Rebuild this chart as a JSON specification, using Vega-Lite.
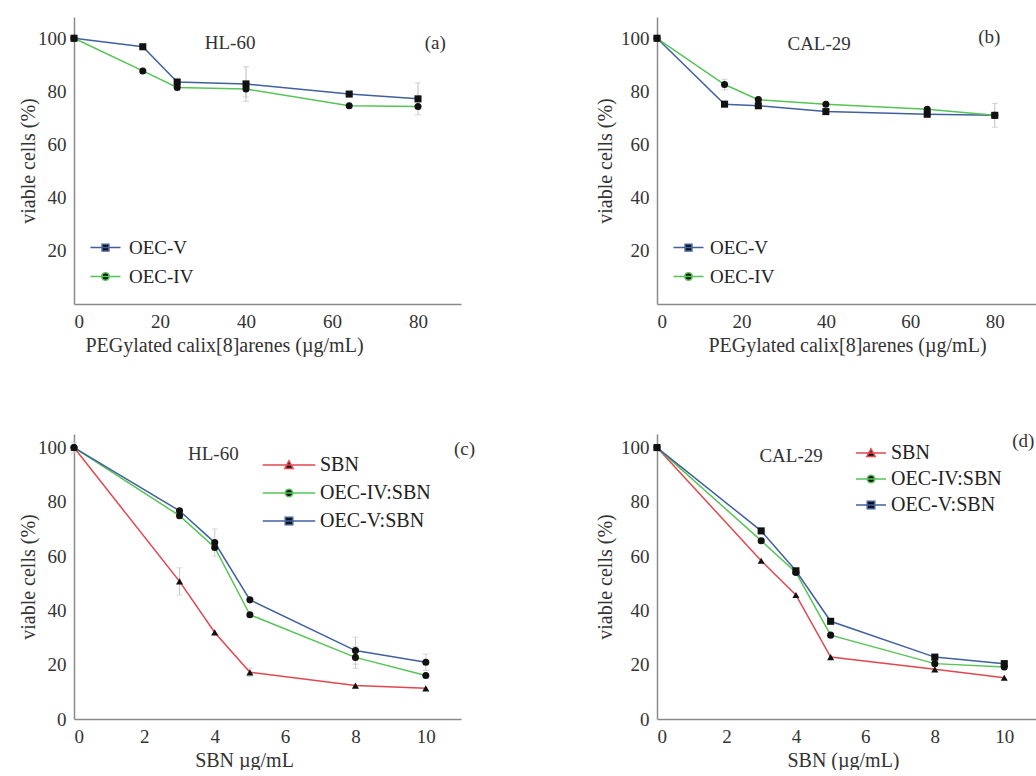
{
  "$schema": "https://vega.github.io/schema/vega-lite/v6.json",
  "padding": {"left": 18, "top": 17, "right": 0, "bottom": 0},
  "background": "white",
  "config": {
    "font": "Liberation Serif",
    "view": {"stroke": null},
    "axis": {
      "domainColor": "#8a8a8a", "domainWidth": 1.5, "ticks": false, "grid": false,
      "labelFont": "Liberation Serif", "labelFontSize": 19, "labelColor": "#333",
      "titleFont": "Liberation Serif", "titleFontSize": 20, "titleFontWeight": "normal", "titleColor": "#333",
      "labelPadding": 8
    },
    "legend": {"labelFont": "Liberation Serif", "labelColor": "#222", "title": null, "padding": 0},
    "text": {"font": "Liberation Serif", "fontSize": 19, "color": "#333"}
  },
  "resolve": {"scale": {"color": "independent", "x": "independent", "y": "independent"}, "legend": {"color": "independent"}},
  "datasets": {
    "a": [
      {"series": "OEC-V", "x": 0, "y": 100},
      {"series": "OEC-V", "x": 16, "y": 96.8},
      {"series": "OEC-V", "x": 24, "y": 83.5, "err": 1.5},
      {"series": "OEC-V", "x": 40, "y": 82.8, "err": 6.5},
      {"series": "OEC-V", "x": 64, "y": 79},
      {"series": "OEC-V", "x": 80, "y": 77.2, "err": 6},
      {"series": "OEC-IV", "x": 0, "y": 100},
      {"series": "OEC-IV", "x": 16, "y": 87.7},
      {"series": "OEC-IV", "x": 24, "y": 81.5},
      {"series": "OEC-IV", "x": 40, "y": 80.9, "err": 3},
      {"series": "OEC-IV", "x": 64, "y": 74.6},
      {"series": "OEC-IV", "x": 80, "y": 74.3}
    ],
    "b": [
      {"series": "OEC-V", "x": 0, "y": 100},
      {"series": "OEC-V", "x": 16, "y": 75.2},
      {"series": "OEC-V", "x": 24, "y": 74.6},
      {"series": "OEC-V", "x": 40, "y": 72.4},
      {"series": "OEC-V", "x": 64, "y": 71.4},
      {"series": "OEC-V", "x": 80, "y": 71, "err": 4.5},
      {"series": "OEC-IV", "x": 0, "y": 100},
      {"series": "OEC-IV", "x": 16, "y": 82.6, "err": 2},
      {"series": "OEC-IV", "x": 24, "y": 76.9},
      {"series": "OEC-IV", "x": 40, "y": 75.2},
      {"series": "OEC-IV", "x": 64, "y": 73.3},
      {"series": "OEC-IV", "x": 80, "y": 71}
    ],
    "c": [
      {"series": "SBN", "x": 0, "y": 100},
      {"series": "SBN", "x": 3, "y": 50.7, "err": 5},
      {"series": "SBN", "x": 4, "y": 31.9},
      {"series": "SBN", "x": 5, "y": 17.2, "err": 1.5},
      {"series": "SBN", "x": 8, "y": 12.3},
      {"series": "SBN", "x": 10, "y": 11.3},
      {"series": "OEC-IV:SBN", "x": 0, "y": 100},
      {"series": "OEC-IV:SBN", "x": 3, "y": 74.9},
      {"series": "OEC-IV:SBN", "x": 4, "y": 63.2},
      {"series": "OEC-IV:SBN", "x": 5, "y": 38.4},
      {"series": "OEC-IV:SBN", "x": 8, "y": 22.7, "err": 4},
      {"series": "OEC-IV:SBN", "x": 10, "y": 16},
      {"series": "OEC-V:SBN", "x": 0, "y": 100, "err": 2},
      {"series": "OEC-V:SBN", "x": 3, "y": 76.7},
      {"series": "OEC-V:SBN", "x": 4, "y": 65, "err": 5},
      {"series": "OEC-V:SBN", "x": 5, "y": 43.9},
      {"series": "OEC-V:SBN", "x": 8, "y": 25.2, "err": 5},
      {"series": "OEC-V:SBN", "x": 10, "y": 20.9, "err": 3}
    ],
    "d": [
      {"series": "SBN", "x": 0, "y": 100},
      {"series": "SBN", "x": 3, "y": 58.3},
      {"series": "SBN", "x": 4, "y": 45.7},
      {"series": "SBN", "x": 5, "y": 22.8},
      {"series": "SBN", "x": 8, "y": 18.3},
      {"series": "SBN", "x": 10, "y": 15.2},
      {"series": "OEC-IV:SBN", "x": 0, "y": 100},
      {"series": "OEC-IV:SBN", "x": 3, "y": 65.7},
      {"series": "OEC-IV:SBN", "x": 4, "y": 54},
      {"series": "OEC-IV:SBN", "x": 5, "y": 30.9},
      {"series": "OEC-IV:SBN", "x": 8, "y": 20.4},
      {"series": "OEC-IV:SBN", "x": 10, "y": 19.2},
      {"series": "OEC-V:SBN", "x": 0, "y": 100},
      {"series": "OEC-V:SBN", "x": 3, "y": 69.3},
      {"series": "OEC-V:SBN", "x": 4, "y": 54.6},
      {"series": "OEC-V:SBN", "x": 5, "y": 36},
      {"series": "OEC-V:SBN", "x": 8, "y": 22.8},
      {"series": "OEC-V:SBN", "x": 10, "y": 20.4}
    ]
  },
  "columns": 2,
  "spacing": {"row": 76, "column": 119},
  "concat": [
    {
      "width": 387, "height": 287,
      "layer": [
        {"data": {"name": "a"}, "transform": [{"filter": "datum.err > 0"}], "mark": {"type": "errorbar", "color": "#c0c0c0", "ticks": {"size": 6}},
         "encoding": {"x": {"field": "x", "type": "quantitative", "title": "PEGylated calix[8]arenes (µg/mL)"}, "y": {"field": "y", "type": "quantitative", "title": "viable cells (%)"}, "yError": {"field": "err"}}},
        {"data": {"name": "a"}, "mark": {"type": "line", "strokeWidth": 1.5},
         "encoding": {
           "x": {"field": "x", "type": "quantitative", "scale": {"domain": [0, 90], "nice": false},
                 "axis": {"values": [0, 20, 40, 60, 80], "titleX": 150}, "title": "PEGylated calix[8]arenes (µg/mL)"},
           "y": {"field": "y", "type": "quantitative", "scale": {"domain": [10, 108], "nice": false},
                 "axis": {"values": [20, 40, 60, 80, 100], "titleX": -36}, "title": "viable cells (%)"},
           "color": {"field": "series", "type": "nominal",
           "scale": {"domain": ["OEC-V", "OEC-IV"], "range": ["#40609e", "#56c456"]},
           "legend": {"orient": "none", "legendX": 22, "legendY": 221, "symbolSize": 225, "symbolStrokeWidth": 1.5,
             "labelFontSize": 19, "labelOffset": 14, "rowPadding": 9,
             "encode": {"symbols": {"update": {"fill": {"value": "#111"},
               "shape": {"signal": "datum.value === 'OEC-V' ? 'M-2,0H2M-0.45,-0.45H0.45V0.45H-0.45Z' : 'M-2,0H2M0.5,0A0.5,0.5,0,1,1,-0.5,0A0.5,0.5,0,1,1,0.5,0Z'"}}}}}}}},
        {"data": {"name": "a"}, "mark": {"type": "point", "filled": true, "size": 50, "opacity": 1, "color": "#111"},
         "encoding": {"x": {"field": "x", "type": "quantitative", "title": "PEGylated calix[8]arenes (µg/mL)"}, "y": {"field": "y", "type": "quantitative", "title": "viable cells (%)"},
           "shape": {"condition": {"test": "datum.series === 'OEC-V'", "value": "square"}, "value": "circle"}}},
        {"data": {"values": [{}]}, "mark": {"type": "text"},
         "encoding": {"x": {"datum": 36.3, "type": "quantitative", "title": "PEGylated calix[8]arenes (µg/mL)"}, "y": {"datum": 98.3, "type": "quantitative", "title": "viable cells (%)"}, "text": {"value": "HL-60"}}},
        {"data": {"values": [{}]}, "mark": {"type": "text"},
         "encoding": {"x": {"datum": 84, "type": "quantitative", "title": "PEGylated calix[8]arenes (µg/mL)"}, "y": {"datum": 98.3, "type": "quantitative", "title": "viable cells (%)"}, "text": {"value": "(a)"}}}
      ]
    },
    {
      "width": 380, "height": 287,
      "layer": [
        {"data": {"name": "b"}, "transform": [{"filter": "datum.err > 0"}], "mark": {"type": "errorbar", "color": "#c0c0c0", "ticks": {"size": 6}},
         "encoding": {"x": {"field": "x", "type": "quantitative", "title": "PEGylated calix[8]arenes (µg/mL)"}, "y": {"field": "y", "type": "quantitative", "title": "viable cells (%)"}, "yError": {"field": "err"}}},
        {"data": {"name": "b"}, "mark": {"type": "line", "strokeWidth": 1.5},
         "encoding": {
           "x": {"field": "x", "type": "quantitative", "scale": {"domain": [0, 90], "nice": false},
                 "axis": {"values": [0, 20, 40, 60, 80]}, "title": "PEGylated calix[8]arenes (µg/mL)"},
           "y": {"field": "y", "type": "quantitative", "scale": {"domain": [10, 108], "nice": false},
                 "axis": {"values": [20, 40, 60, 80, 100], "titleX": -42}, "title": "viable cells (%)"},
           "color": {"field": "series", "type": "nominal",
           "scale": {"domain": ["OEC-V", "OEC-IV"], "range": ["#40609e", "#56c456"]},
           "legend": {"orient": "none", "legendX": 22, "legendY": 221, "symbolSize": 225, "symbolStrokeWidth": 1.5,
             "labelFontSize": 19, "labelOffset": 12, "rowPadding": 9,
             "encode": {"symbols": {"update": {"fill": {"value": "#111"},
               "shape": {"signal": "datum.value === 'OEC-V' ? 'M-2,0H2M-0.45,-0.45H0.45V0.45H-0.45Z' : 'M-2,0H2M0.5,0A0.5,0.5,0,1,1,-0.5,0A0.5,0.5,0,1,1,0.5,0Z'"}}}}}}}},
        {"data": {"name": "b"}, "mark": {"type": "point", "filled": true, "size": 50, "opacity": 1, "color": "#111"},
         "encoding": {"x": {"field": "x", "type": "quantitative", "title": "PEGylated calix[8]arenes (µg/mL)"}, "y": {"field": "y", "type": "quantitative", "title": "viable cells (%)"},
           "shape": {"condition": {"test": "datum.series === 'OEC-V'", "value": "square"}, "value": "circle"}}},
        {"data": {"values": [{}]}, "mark": {"type": "text"},
         "encoding": {"x": {"datum": 38.4, "type": "quantitative", "title": "PEGylated calix[8]arenes (µg/mL)"}, "y": {"datum": 98, "type": "quantitative", "title": "viable cells (%)"}, "text": {"value": "CAL-29"}}},
        {"data": {"values": [{}]}, "mark": {"type": "text"},
         "encoding": {"x": {"datum": 78.7, "type": "quantitative", "title": "PEGylated calix[8]arenes (µg/mL)"}, "y": {"datum": 100.3, "type": "quantitative", "title": "viable cells (%)"}, "text": {"value": "(b)"}}}
      ]
    },
    {
      "width": 387, "height": 285,
      "layer": [
        {"data": {"name": "c"}, "transform": [{"filter": "datum.err > 0"}], "mark": {"type": "errorbar", "color": "#c8c8c8", "ticks": {"size": 6}},
         "encoding": {"x": {"field": "x", "type": "quantitative", "title": "SBN µg/mL"}, "y": {"field": "y", "type": "quantitative", "title": "viable cells (%)"}, "yError": {"field": "err"}}},
        {"data": {"name": "c"}, "mark": {"type": "line", "strokeWidth": 1.5},
         "encoding": {
           "x": {"field": "x", "type": "quantitative", "scale": {"domain": [0, 11], "nice": false},
                 "axis": {"values": [0, 2, 4, 6, 8, 10], "titleX": 170}, "title": "SBN µg/mL"},
           "y": {"field": "y", "type": "quantitative", "scale": {"domain": [0, 105], "nice": false},
                 "axis": {"values": [0, 20, 40, 60, 80, 100], "titleX": -36}, "title": "viable cells (%)"},
           "color": {"field": "series", "type": "nominal",
           "scale": {"domain": ["SBN", "OEC-IV:SBN", "OEC-V:SBN"], "range": ["#e2474f", "#56c456", "#40609e"]},
           "legend": {"orient": "none", "legendX": 205, "legendY": 21, "symbolSize": 225, "symbolStrokeWidth": 1.5,
             "labelFontSize": 20, "labelOffset": 21, "rowPadding": 8,
             "encode": {"symbols": {"update": {"fill": {"value": "#111"},
               "shape": {"signal": "datum.value === 'SBN' ? 'M-3.5,0H3.5M0,-0.55L0.55,0.45L-0.55,0.45Z' : datum.value === 'OEC-V:SBN' ? 'M-3.5,0H3.5M-0.5,-0.5H0.5V0.5H-0.5Z' : 'M-3.5,0H3.5M0.5,0A0.5,0.5,0,1,1,-0.5,0A0.5,0.5,0,1,1,0.5,0Z'"}}}}}}}},
        {"data": {"name": "c"}, "mark": {"type": "point", "filled": true, "size": 50, "opacity": 1, "color": "#111"},
         "encoding": {"x": {"field": "x", "type": "quantitative", "title": "SBN µg/mL"}, "y": {"field": "y", "type": "quantitative", "title": "viable cells (%)"},
           "shape": {"condition": {"test": "datum.series === 'SBN'", "value": "triangle-up"}, "value": "circle"}}},
        {"data": {"values": [{}]}, "mark": {"type": "text"},
         "encoding": {"x": {"datum": 3.96, "type": "quantitative", "title": "SBN µg/mL"}, "y": {"datum": 97.7, "type": "quantitative", "title": "viable cells (%)"}, "text": {"value": "HL-60"}}},
        {"data": {"values": [{}]}, "mark": {"type": "text"},
         "encoding": {"x": {"datum": 11.1, "type": "quantitative", "title": "SBN µg/mL"}, "y": {"datum": 99.5, "type": "quantitative", "title": "viable cells (%)"}, "text": {"value": "(c)"}}}
      ]
    },
    {
      "width": 382, "height": 285,
      "layer": [
        {"data": {"name": "d"}, "mark": {"type": "line", "strokeWidth": 1.5},
         "encoding": {
           "x": {"field": "x", "type": "quantitative", "scale": {"domain": [0, 11], "nice": false},
                 "axis": {"values": [0, 2, 4, 6, 8, 10], "titleX": 186}, "title": "SBN (µg/mL)"},
           "y": {"field": "y", "type": "quantitative", "scale": {"domain": [0, 105], "nice": false},
                 "axis": {"values": [0, 20, 40, 60, 80, 100], "titleX": -42}, "title": "viable cells (%)"},
           "color": {"field": "series", "type": "nominal",
           "scale": {"domain": ["SBN", "OEC-IV:SBN", "OEC-V:SBN"], "range": ["#e2474f", "#56c456", "#40609e"]},
           "legend": {"orient": "none", "legendX": 204, "legendY": 9, "symbolSize": 225, "symbolStrokeWidth": 1.5,
             "labelFontSize": 20, "labelOffset": 10, "rowPadding": 6,
             "encode": {"symbols": {"update": {"fill": {"value": "#111"},
               "shape": {"signal": "datum.value === 'SBN' ? 'M-2,0H2M0,-0.55L0.55,0.45L-0.55,0.45Z' : datum.value === 'OEC-V:SBN' ? 'M-2,0H2M-0.5,-0.5H0.5V0.5H-0.5Z' : 'M-2,0H2M0.5,0A0.5,0.5,0,1,1,-0.5,0A0.5,0.5,0,1,1,0.5,0Z'"}}}}}}}},
        {"data": {"name": "d"}, "mark": {"type": "point", "filled": true, "size": 50, "opacity": 1, "color": "#111"},
         "encoding": {"x": {"field": "x", "type": "quantitative", "title": "SBN (µg/mL)"}, "y": {"field": "y", "type": "quantitative", "title": "viable cells (%)"},
           "shape": {"condition": {"test": "datum.series === 'SBN'", "value": "triangle-up"}, "value": {"expr": "datum.series === 'OEC-V:SBN' ? 'square' : 'circle'"}}}},
        {"data": {"values": [{}]}, "mark": {"type": "text"},
         "encoding": {"x": {"datum": 3.86, "type": "quantitative", "title": "SBN (µg/mL)"}, "y": {"datum": 97, "type": "quantitative", "title": "viable cells (%)"}, "text": {"value": "CAL-29"}}},
        {"data": {"values": [{}]}, "mark": {"type": "text"},
         "encoding": {"x": {"datum": 10.55, "type": "quantitative", "title": "SBN (µg/mL)"}, "y": {"datum": 102.5, "type": "quantitative", "title": "viable cells (%)"}, "text": {"value": "(d)"}}}
      ]
    }
  ]
}
